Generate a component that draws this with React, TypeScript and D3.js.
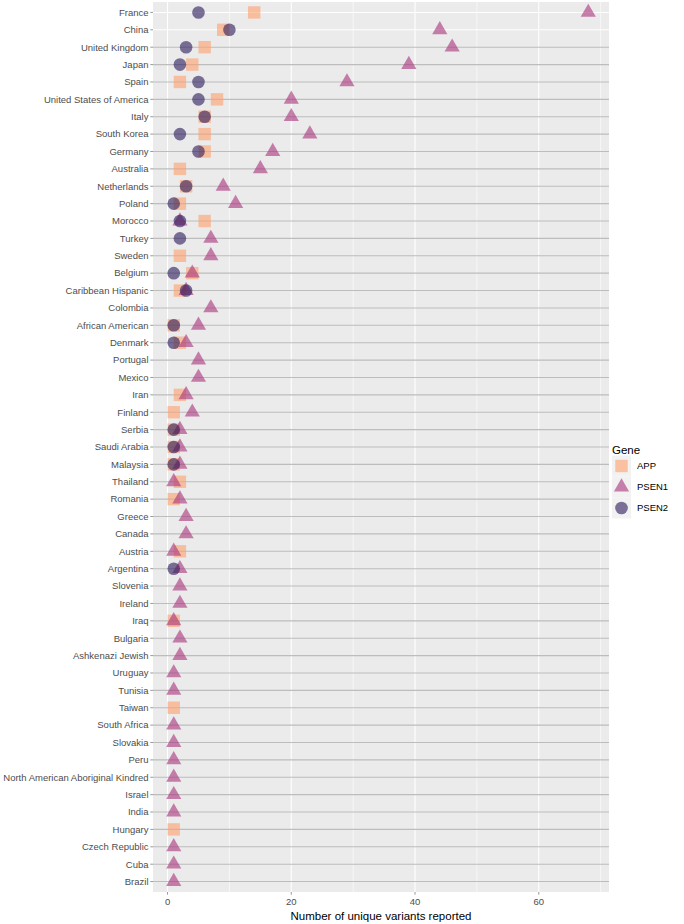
import * as d3 from "d3";

const countries = [
  "France", "China", "United Kingdom", "Japan", "Spain", "United States of America",
  "Italy", "South Korea", "Germany", "Australia", "Netherlands", "Poland", "Morocco",
  "Turkey", "Sweden", "Belgium", "Caribbean Hispanic", "Colombia", "African American",
  "Denmark", "Portugal", "Mexico", "Iran", "Finland", "Serbia", "Saudi Arabia",
  "Malaysia", "Thailand", "Romania", "Greece", "Canada", "Austria", "Argentina",
  "Slovenia", "Ireland", "Iraq", "Bulgaria", "Ashkenazi Jewish", "Uruguay", "Tunisia",
  "Taiwan", "South Africa", "Slovakia", "Peru", "North American Aboriginal Kindred",
  "Israel", "India", "Hungary", "Czech Republic", "Cuba", "Brazil",
];

// null = no variant reported for that gene
const appValues = [
  14, 9, 6, 4, 2, 8, 6, 6, 6, 2, 3, 2, 6, null, 2, 4, 2, null, 1, 2, null, null, 2, 1, 1,
  1, 1, 2, 1, null, null, 2, null, null, null, 1, null, null, null, null, 1, null, null,
  null, null, null, null, 1, null, null, null,
];
const psen1Values = [
  68, 44, 46, 39, 29, 20, 20, 23, 17, 15, 9, 11, 2, 7, 7, 4, 3, 7, 5, 3, 5, 5, 3, 4, 2,
  2, 2, 1, 2, 3, 3, 1, 2, 2, 2, 1, 2, 2, 1, 1, null, 1, 1, 1, 1, 1, 1, null, 1, 1, 1,
];
const psen2Values = [
  5, 10, 3, 2, 5, 5, 6, 2, 5, null, 3, 1, 2, 2, null, 1, 3, null, 1, 1, null, null, null,
  null, 1, 1, 1, null, null, null, null, null, 1, null, null, null, null, null, null,
  null, null, null, null, null, null, null, null, null, null, null, null,
];

const genes = ["APP", "PSEN1", "PSEN2"];
const xTicks = [0, 20, 40, 60];
const xMinor = [10, 30, 50, 70];

const COLORS: Record<string, string> = { APP: "#FE9F6D", PSEN1: "#A8327A", PSEN2: "#2A1858" };
const ALPHA = 0.6;
const FONT = "'Liberation Sans', Arial, Helvetica, sans-serif";

const W = 684;
const H = 924;
const PANEL = { left: 153, right: 609, top: 2, bottom: 892 };

function Marker({ gene, x, y }: { gene: string; x: number; y: number }) {
  const fill = COLORS[gene];
  if (gene === "APP") {
    return <rect x={x - 6.2} y={y - 6.2} width={12.4} height={12.4} fill={fill} fillOpacity={ALPHA} />;
  }
  if (gene === "PSEN1") {
    const tri = d3.symbol(d3.symbolTriangle, 100)() as string;
    return <path d={tri} transform={`translate(${x},${y})`} fill={fill} fillOpacity={ALPHA} />;
  }
  return <circle cx={x} cy={y} r={6.3} fill={fill} fillOpacity={ALPHA} />;
}

export default function App() {
  const allVals = [...appValues, ...psen1Values, ...psen2Values].filter((v) => v != null) as number[];
  const [lo, hi] = d3.extent(allVals) as [number, number];
  const pad = (hi - lo) * 0.05;

  const x = d3.scaleLinear().domain([lo - pad, hi + pad]).range([PANEL.left, PANEL.right]);
  const y = d3
    .scalePoint<string>()
    .domain(countries)
    .range([PANEL.top, PANEL.bottom])
    .padding(0.6);

  const seriesByGene: Record<string, (number | null)[]> = {
    APP: appValues,
    PSEN1: psen1Values,
    PSEN2: psen2Values,
  };

  return (
    <div style={{ position: "absolute", left: 0, top: 0 }}>
      <svg width={W} height={H} style={{ display: "block", fontFamily: FONT }}>
        <rect x={0} y={0} width={W} height={H} fill="#ffffff" />
        <rect
          x={PANEL.left}
          y={PANEL.top}
          width={PANEL.right - PANEL.left}
          height={PANEL.bottom - PANEL.top}
          fill="#EBEBEB"
        />
        {/* vertical grid */}
        {xMinor.map((t) => (
          <line key={"mi" + t} x1={x(t)} x2={x(t)} y1={PANEL.top} y2={PANEL.bottom} stroke="#fff" strokeWidth={0.6} />
        ))}
        {xTicks.map((t) => (
          <line key={"ma" + t} x1={x(t)} x2={x(t)} y1={PANEL.top} y2={PANEL.bottom} stroke="#fff" strokeWidth={1.1} />
        ))}
        {/* horizontal row lines */}
        {countries.map((c, i) => (
          <line
            key={"h" + c}
            x1={PANEL.left}
            x2={PANEL.right}
            y1={y(c)}
            y2={y(c)}
            stroke={i < 2 ? "#ffffff" : "#BDBDBD"}
            strokeWidth={1.1}
          />
        ))}
        {/* points */}
        {genes.map((g) => (
          <g key={g}>
            {seriesByGene[g].map((v, i) =>
              v == null ? null : <Marker key={i} gene={g} x={x(v)} y={y(countries[i]) as number} />
            )}
          </g>
        ))}
        {/* y axis */}
        {countries.map((c) => (
          <g key={"yl" + c}>
            <line x1={PANEL.left - 2.7} x2={PANEL.left} y1={y(c)} y2={y(c)} stroke="#333" strokeWidth={0.5} />
            <text
              x={PANEL.left - 4.5}
              y={y(c)}
              dy="0.35em"
              textAnchor="end"
              fontSize={9.5}
              fill="#4D4D4D"
            >
              {c}
            </text>
          </g>
        ))}
        {/* x axis */}
        {xTicks.map((t) => (
          <g key={"xl" + t}>
            <line x1={x(t)} x2={x(t)} y1={PANEL.bottom} y2={PANEL.bottom + 2.7} stroke="#333" strokeWidth={0.5} />
            <text x={x(t)} y={PANEL.bottom + 13} textAnchor="middle" fontSize={9.5} fill="#4D4D4D">
              {t}
            </text>
          </g>
        ))}
        <text x={(PANEL.left + PANEL.right) / 2} y={920} textAnchor="middle" fontSize={11.5} fill="#000">
          Number of unique variants reported
        </text>
        {/* legend */}
        <text x={612} y={454} fontSize={11.5} fill="#000">
          Gene
        </text>
        {genes.map((g, i) => {
          const cy = 466 + i * 21;
          return (
            <g key={"lg" + g}>
              <rect x={612} y={cy - 10.5} width={19} height={21} fill="#F2F2F2" />
              <Marker gene={g} x={621.5} y={cy} />
              <text x={637} y={cy} dy="0.35em" fontSize={9.5} fill="#000">
                {g}
              </text>
            </g>
          );
        })}
      </svg>
    </div>
  );
}
